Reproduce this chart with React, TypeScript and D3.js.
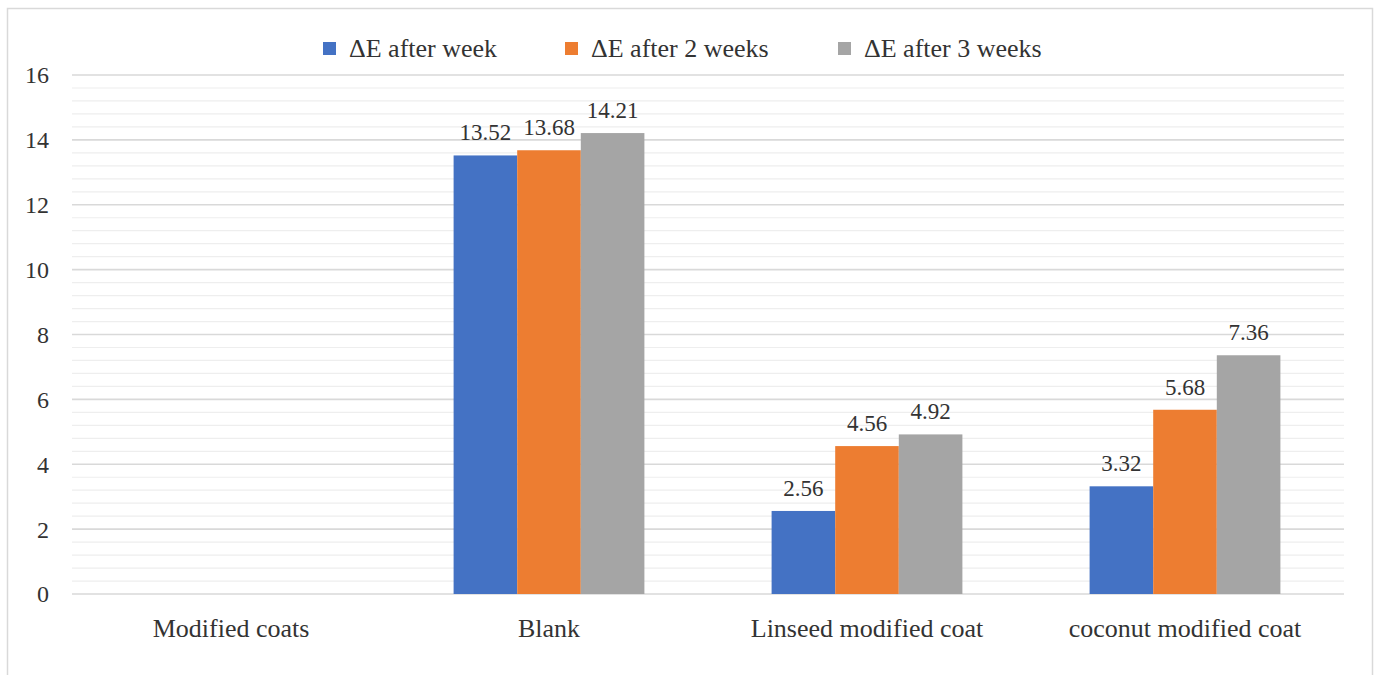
import React from "react";
import * as d3 from "d3";

const categories = ["Modified coats", "Blank", "Linseed modified coat", "coconut modified coat"];
const seriesNames = ["ΔE after week", "ΔE after 2 weeks", "ΔE after 3 weeks"];
const week1: (number | null)[] = [null, 13.52, 2.56, 3.32];
const week2: (number | null)[] = [null, 13.68, 4.56, 5.68];
const week3: (number | null)[] = [null, 14.21, 4.92, 7.36];
const majorTicks = [0, 2, 4, 6, 8, 10, 12, 14, 16];
const colors = ["#4472C4", "#ED7D31", "#A5A5A5"];

const W = 1379;
const H = 675;
const plot = { left: 72, right: 1344, top: 75, bottom: 594 };
const SERIF = "Liberation Serif";
const textColor = "#333333";

export default function App() {
  const series = [week1, week2, week3];
  const x = d3.scaleBand<string>().domain(categories).range([plot.left, plot.right]);
  const y = d3.scaleLinear().domain([0, 16]).range([plot.bottom, plot.top]);
  const groupWidth = x.bandwidth() * 0.6;
  const xs = d3.scaleBand<number>().domain([0, 1, 2]).range([0, groupWidth]);
  // minor gridlines every 0.4, skipping the major (even) values
  const minorTicks = d3.range(0, 16.001, 0.4).filter((v) => Math.abs(v / 2 - Math.round(v / 2)) > 1e-6);

  const legendX = [323, 565, 838];

  return (
    <svg width={W} height={H} fontFamily={SERIF} style={{ position: "absolute", left: 0, top: 0, background: "#fff", fontFamily: SERIF }}>
      <style>{`text { font-family: "Liberation Serif", "Times New Roman", serif !important; }`}</style>
      <rect x={7.5} y={8.5} width={1365} height={680} fill="#fff" stroke="#d9d9d9" strokeWidth={1.5} />
      {minorTicks.map((v) => (
        <line key={"m" + v} x1={plot.left} x2={plot.right} y1={y(v)} y2={y(v)} stroke="#eeeeee" strokeWidth={1.2} />
      ))}
      {majorTicks.map((v) => (
        <line key={"M" + v} x1={plot.left} x2={plot.right} y1={y(v)} y2={y(v)} stroke="#d9d9d9" strokeWidth={1.6} />
      ))}
      {majorTicks.map((v) => (
        <text key={"t" + v} x={49} y={y(v)} dy="0.35em" textAnchor="end" fontFamily={SERIF} fontSize={24} fill={textColor}>
          {v}
        </text>
      ))}
      {categories.map((c, ci) => {
        const gx = (x(c) as number) + (x.bandwidth() - groupWidth) / 2;
        return (
          <g key={c}>
            {series.map((s, si) => {
              const v = s[ci];
              if (v == null) return null;
              const bx = gx + (xs(si) as number);
              return (
                <g key={si}>
                  <rect x={bx} y={y(v)} width={xs.bandwidth()} height={y(0) - y(v)} fill={colors[si]} />
                  <text x={bx + xs.bandwidth() / 2} y={y(v) - 15} textAnchor="middle" fontFamily={SERIF} fontSize={23} fill={textColor}>
                    {v.toFixed(2)}
                  </text>
                </g>
              );
            })}
            <text x={(x(c) as number) + x.bandwidth() / 2} y={637} textAnchor="middle" fontFamily={SERIF} fontSize={26} fill={textColor}>
              {c}
            </text>
          </g>
        );
      })}
      {seriesNames.map((n, i) => (
        <g key={n}>
          <rect x={legendX[i]} y={42} width={13} height={13} fill={colors[i]} />
          <text x={legendX[i] + 26} y={48} dy="0.35em" fontFamily={SERIF} fontSize={26} fill={textColor}>
            {n}
          </text>
        </g>
      ))}
    </svg>
  );
}
